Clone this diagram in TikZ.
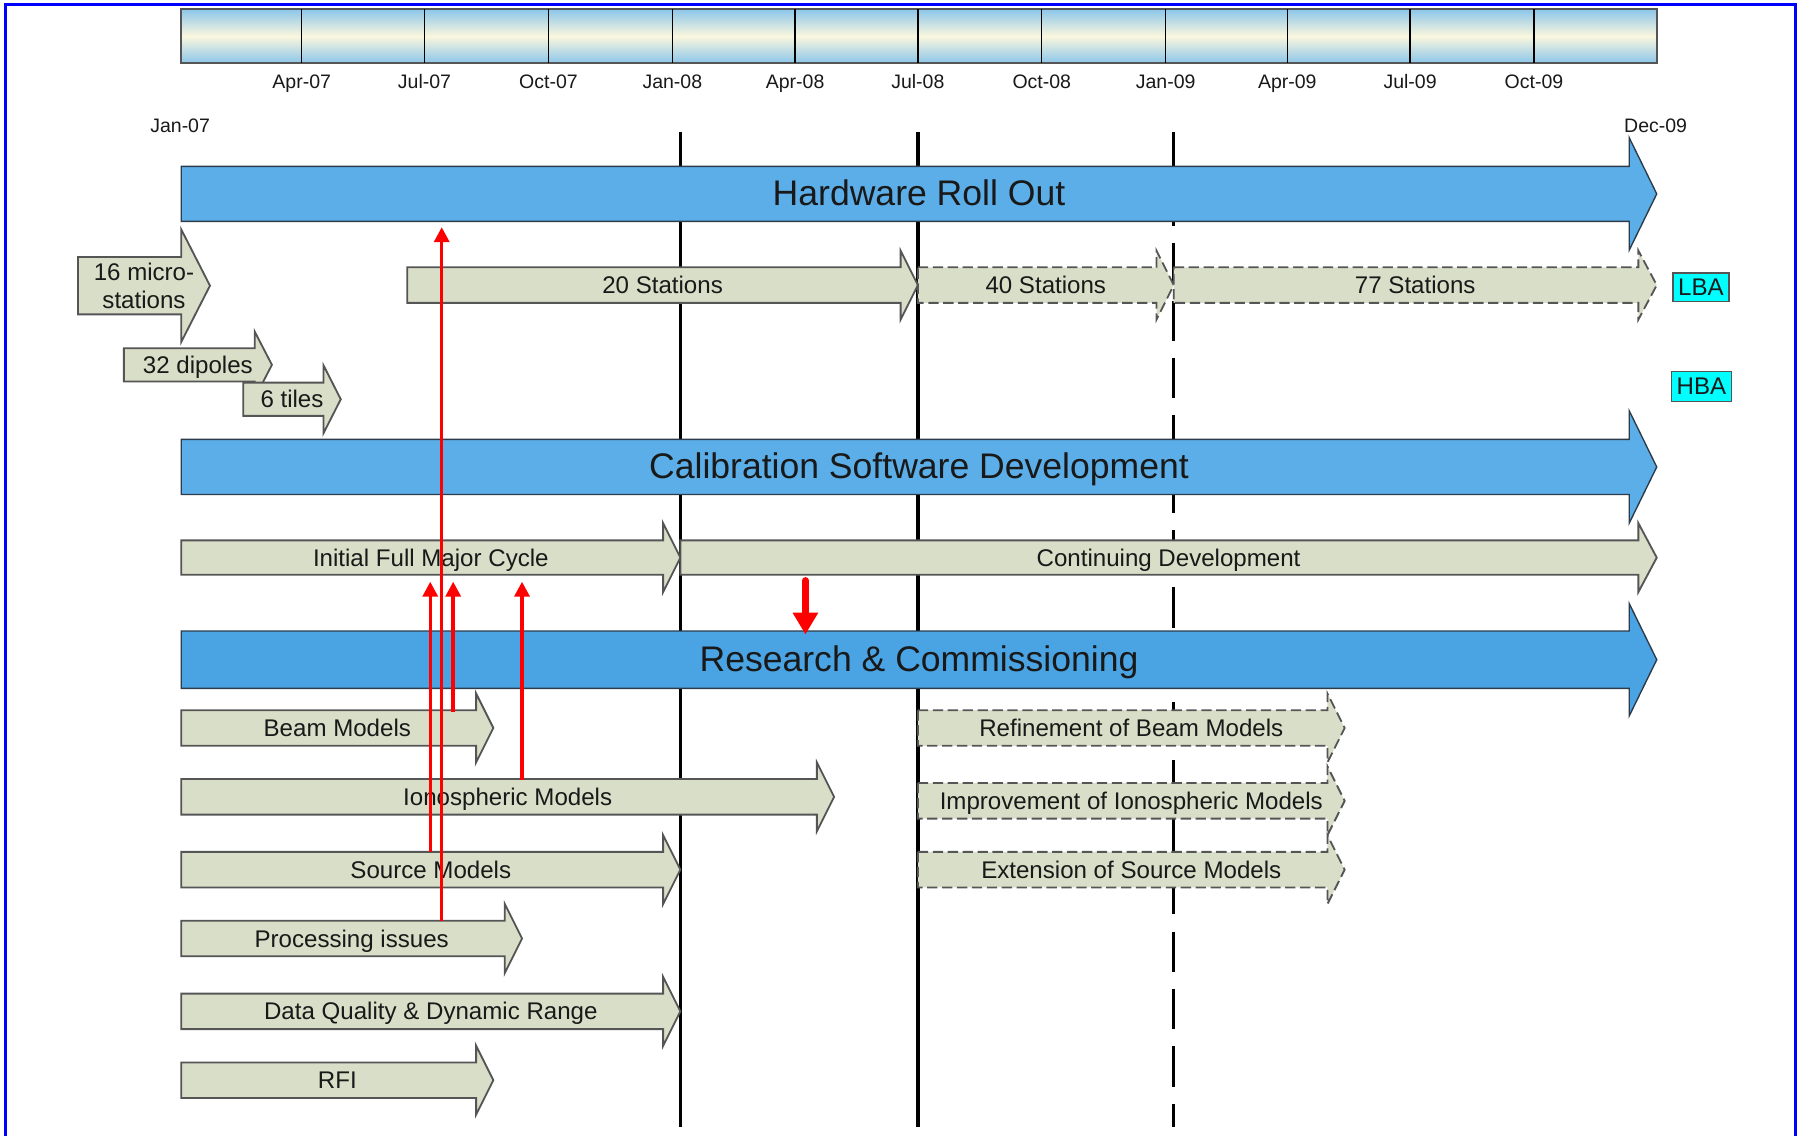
\documentclass[tikz,border=0pt]{standalone}
\usepackage{fontspec}
\setmainfont{Liberation Sans}
\usetikzlibrary{arrows.meta}
\definecolor{hwblue}{RGB}{92,174,232}
\definecolor{rcblue}{RGB}{74,164,227}
\definecolor{bluedge}{RGB}{45,60,75}
\definecolor{grayfill}{RGB}{217,222,200}
\definecolor{grayedge}{RGB}{85,85,85}
\definecolor{txt}{RGB}{25,25,25}
\definecolor{barblue}{RGB}{140,198,234}
\definecolor{barcream}{RGB}{251,247,222}
\definecolor{framblue}{RGB}{0,0,255}
\definecolor{lbacyan}{RGB}{0,255,255}
\tikzset{
  bigarr/.style={fill=hwblue,draw=bluedge,line width=1.2pt,line join=miter},
  rcarr/.style={fill=rcblue,draw=bluedge,line width=1.2pt,line join=miter},
  grayarr/.style={fill=grayfill,draw=grayedge,line width=1.6pt,line join=miter},
  dasharr/.style={fill=grayfill,draw=grayedge,line width=1.6pt,dash pattern=on 9pt off 4pt},
  lblml/.style={inner sep=0pt,text=txt,font=\fontsize{21}{25}\selectfont,align=center},
  lbl/.style={inner sep=0pt,text=txt,font=\fontsize{21}{25}\selectfont,text height=17pt,text depth=2pt},
  biglbl/.style={inner sep=0pt,text=txt,font=\fontsize{31}{36}\selectfont,text height=26pt,text depth=4pt},
  datelbl/.style={inner sep=0pt,text=txt,font=\fontsize{17}{20}\selectfont,text height=14pt,text depth=1.8pt},
  tagbox/.style={fill=lbacyan,draw=grayedge,line width=1.2pt,inner sep=0pt,text=txt,font=\fontsize{21}{25}\selectfont},
  milestone/.style={black,line width=3pt},
  redarr/.style={red,line width=3pt,-{Triangle[width=13pt,length=13pt]}},
  redbig/.style={red,line width=6pt,line cap=round,-{Triangle[width=21pt,length=19pt]}}
}
% style, name, x0, head start, tip, y centre, body half height, head half height, text
\newcommand{\blockarr}[9]{%
  \draw[#1] ({#3},{#6-#7}) -- ({#4},{#6-#7}) -- ({#4},{#6-#8}) -- ({#5},{#6})
    -- ({#4},{#6+#8}) -- ({#4},{#6+#7}) -- ({#3},{#6+#7}) -- cycle;
  \node[lbl] (#2) at ({(#3+#5)/2},{#6}) {#9};}
\begin{document}
\begin{tikzpicture}[x=1pt,y=-1pt]
\useasboundingbox (0,0) rectangle (1568,990);
\clip (0,0) rectangle (1568,990);
\fill[white] (0,0) rectangle (1568,990);
% frame
\draw[framblue,line width=2.5pt] (5,1000) -- (5,4) -- (1565,4) -- (1565,1000);
% timeline bar
\shade[top color=barblue,bottom color=barblue,middle color=barcream] (158,8) rectangle (1444,55);
\draw[grayedge,line width=1.5pt] (158,8) rectangle (1444,55);
\foreach \x/\t in {263/Apr-07,370/Jul-07,478/Oct-07,586/Jan-08,693/Apr-08,800/Jul-08,908/Oct-08,1016/Jan-09,1122/Apr-09,1229/Jul-09,1337/Oct-09}{
  \draw[black,line width=1.1pt] (\x,8) -- (\x,55);
  \node[datelbl] (d\x) at (\x,71) {\t};
}
\node[datelbl] (jan07) at (157,109) {Jan-07};
\node[datelbl] (dec09) at (1443,109) {Dec-09};
% milestone lines
\draw[milestone] (593,115) -- (593,982);
\draw[milestone] (800,115) -- (800,982);
\draw[milestone,dash pattern=on 35pt off 15pt,dash phase=3pt] (1023,115) -- (1023,982);
% main arrows
\blockarr{bigarr}{hw}{158}{1420}{1444}{169}{24}{49}{}
\node[biglbl] (hwt) at (801,168) {Hardware Roll Out};
\blockarr{bigarr}{cal}{158}{1420}{1444}{407}{24}{49}{}
\node[biglbl] (calt) at (801,406) {Calibration Software Development};
\blockarr{rcarr}{rc}{158}{1420}{1444}{575}{25}{49}{}
\node[biglbl] (rct) at (801,574) {Research \& Commissioning};
% hardware
\blockarr{grayarr}{microa}{68}{158}{183}{249}{25}{49}{}
\node[lblml] (micro) at (125.5,249) {16 micro-\\[-1pt]stations};
\blockarr{grayarr}{dip}{108}{222}{237}{318}{14.5}{29}{32 dipoles}
\blockarr{grayarr}{tiles}{212}{282}{297}{348}{14.5}{29.5}{6 tiles}
\blockarr{grayarr}{s20}{355}{785}{800}{248.5}{15.5}{30}{20 Stations}
\blockarr{dasharr}{s40}{800}{1008}{1023}{248.5}{15.5}{30}{40 Stations}
\blockarr{dasharr}{s77}{1023}{1428}{1444}{248.5}{15.5}{30}{77 Stations}
\node[tagbox,minimum width=49pt,minimum height=25pt] (lba) at (1482.5,250.5) {LBA};
\node[tagbox,minimum width=52pt,minimum height=26pt] (hba) at (1483,337) {HBA};
% software
\blockarr{grayarr}{ifmc}{158}{578}{593}{486}{15}{30}{Initial Full Major Cycle}
\blockarr{grayarr}{cont}{593}{1428}{1444}{486}{15}{30}{Continuing Development}
% research
\blockarr{grayarr}{beam}{158}{415}{430}{634.5}{15.5}{30}{Beam Models}
\blockarr{grayarr}{iono}{158}{712}{727}{694.5}{15.5}{30}{Ionospheric Models}
\blockarr{grayarr}{src}{158}{578}{593}{758}{15.5}{30}{Source Models}
\blockarr{grayarr}{proc}{158}{440}{455}{818}{15.5}{30}{Processing issues}
\blockarr{grayarr}{dq}{158}{578}{593}{881.5}{15.5}{30}{Data Quality \& Dynamic Range}
\blockarr{grayarr}{rfi}{158}{415}{430}{941.5}{15.5}{30}{RFI}
\blockarr{dasharr}{rbm}{800}{1157}{1172}{634.5}{15.5}{30}{Refinement of Beam Models}
\blockarr{dasharr}{iim}{800}{1157}{1172}{698}{15.5}{30}{Improvement of Ionospheric Models}
\blockarr{dasharr}{esm}{800}{1157}{1172}{758}{15.5}{30}{Extension of Source Models}
% red connectors
\coordinate (r1s) at (385,803); \coordinate (r1e) at (385,198);
\coordinate (r2s) at (375,743); \coordinate (r2e) at (375,507);
\coordinate (r3s) at (395,621); \coordinate (r3e) at (395,507);
\coordinate (r4s) at (455,680); \coordinate (r4e) at (455,507);
\coordinate (r5s) at (702,506); \coordinate (r5e) at (702,553);
\draw[redarr] (r1s) -- (r1e);
\draw[redarr] (r2s) -- (r2e);
\draw[redarr] (r3s) -- (r3e);
\draw[redarr] (r4s) -- (r4e);
\draw[redbig] (r5s) -- (r5e);
\end{tikzpicture}
\end{document}
